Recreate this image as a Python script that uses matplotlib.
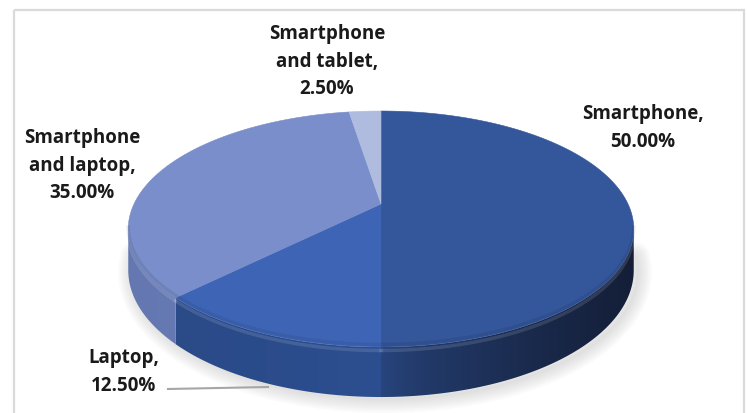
import numpy as np
import matplotlib
matplotlib.use("Agg")
import matplotlib.pyplot as plt
from matplotlib.patches import Polygon, Rectangle
from matplotlib.colors import to_rgb

# data
categories = ["Smartphone", "Laptop", "Smartphone and laptop", "Smartphone and tablet"]
shares = [50.0, 12.5, 35.0, 2.5]
label_texts = ["Smartphone,\n50.00%", "Laptop,\n12.50%",
               "Smartphone\nand laptop,\n35.00%", "Smartphone\nand tablet,\n2.50%"]

top_colors = ["#34569A", "#3E65B5", "#798ECA", "#AFBCE0"]
side_light = ["#28467F", "#2D4F91", "#6E83C1", "#8C9CCB"]
side_dark = ["#141E37", "#2A4A88", "#6477B1", "#8C9CCB"]

# fake 3d geometry (pixels)
cx, cy = 381, 205
A, B, k, H = 247, 112.7, 0.212, 39.4


def proj(phi, drop=0.0):
    t = np.cos(phi)
    s = np.sin(phi)
    w = 1 + k * t
    return cx + A * s / w, cy - B * t / w + drop * H / w


fig = plt.figure(figsize=(7.47, 4.14), dpi=100)
ax = fig.add_axes([0, 0, 1, 1])
ax.axis("off")

ax.add_patch(Rectangle((14, 11), 730, 420, fill=False, edgecolor="#DADADA", lw=1.6))

# soft shadow under the front rim
phi_s = np.linspace(np.radians(95), np.radians(265), 300)
sx, sy = proj(phi_s, 1.0)
for lw in range(20, 1, -3):
    ax.plot(sx + 4, sy + 2, color="#7F7F7F", lw=lw, alpha=0.035,
            solid_capstyle="round", zorder=0.5)

bounds = np.concatenate([[0], np.cumsum(shares)]) / 100 * 2 * np.pi
vis_lo = np.arccos(-k)
vis_hi = 2 * np.pi - vis_lo

# side walls with a horizontal gradient
for i in range(len(shares)):
    a0 = max(bounds[i], vis_lo)
    a1 = min(bounds[i + 1], vis_hi)
    if a1 <= a0:
        continue
    p = np.linspace(a0, a1, 200)
    xt, yt = proj(p)
    xb, yb = proj(p[::-1], 1.0)
    wall = Polygon(np.column_stack([np.r_[xt, xb], np.r_[yt, yb]]), closed=True,
                   facecolor="none", edgecolor="none")
    ax.add_patch(wall)
    x0, x1 = min(xt.min(), xb.min()), max(xt.max(), xb.max())
    y0, y1 = min(yt.min(), yb.min()), max(yt.max(), yb.max())
    xs = np.linspace(x0, x1, 256)
    f = np.abs(xs - cx) / max(abs(x1 - cx), abs(x0 - cx))
    f = np.clip(f, 0, 1) ** 0.7
    c_l = np.array(to_rgb(side_light[i]))
    c_d = np.array(to_rgb(side_dark[i]))
    img = (c_l[None, :] * (1 - f[:, None]) + c_d[None, :] * f[:, None])[None, :, :]
    im = ax.imshow(img, extent=[x0 - 1, x1 + 1, y1 + 1, y0 - 1], aspect="auto",
                   interpolation="bilinear", zorder=1)
    im.set_clip_path(wall)
    # light bevel at the top edge of the wall
    xh, yh = proj(p, 0.07)
    ax.plot(xh, yh, color="white", lw=2.5, alpha=0.12, zorder=1.2)

# top faces
for i in range(len(shares)):
    p = np.linspace(bounds[i], bounds[i + 1], 200)
    xt, yt = proj(p)
    ax.add_patch(Polygon(np.column_stack([np.r_[cx, xt], np.r_[cy, yt]]),
                         closed=True, facecolor=top_colors[i], edgecolor=top_colors[i],
                         lw=0.4, zorder=2))

# darker rim just inside the front edge of the top face
p = np.linspace(vis_lo, vis_hi, 300)
xr, yr = proj(p, -0.05)
ax.plot(xr, yr, color="#0E1A33", lw=2.5, alpha=0.10, zorder=2.2)

# labels
font = dict(family=["Open Sans", "DejaVu Sans"], fontsize=13.5, fontweight="bold",
            color="#1A1A1A", ha="center", va="center", linespacing=1.5, zorder=3)
ax.text(643, 128, label_texts[0], **font)
ax.text(124, 372, label_texts[1], **font)
ax.text(82, 166, label_texts[2], **font)
ax.text(327, 62, label_texts[3], **font)

# leader line for Laptop
ax.plot([168, 268], [390, 388], color="#A6A6A6", lw=1.5, zorder=3)

ax.set_xlim(0, 747)
ax.set_ylim(414, 0)

fig.savefig("out.png", dpi=100)
